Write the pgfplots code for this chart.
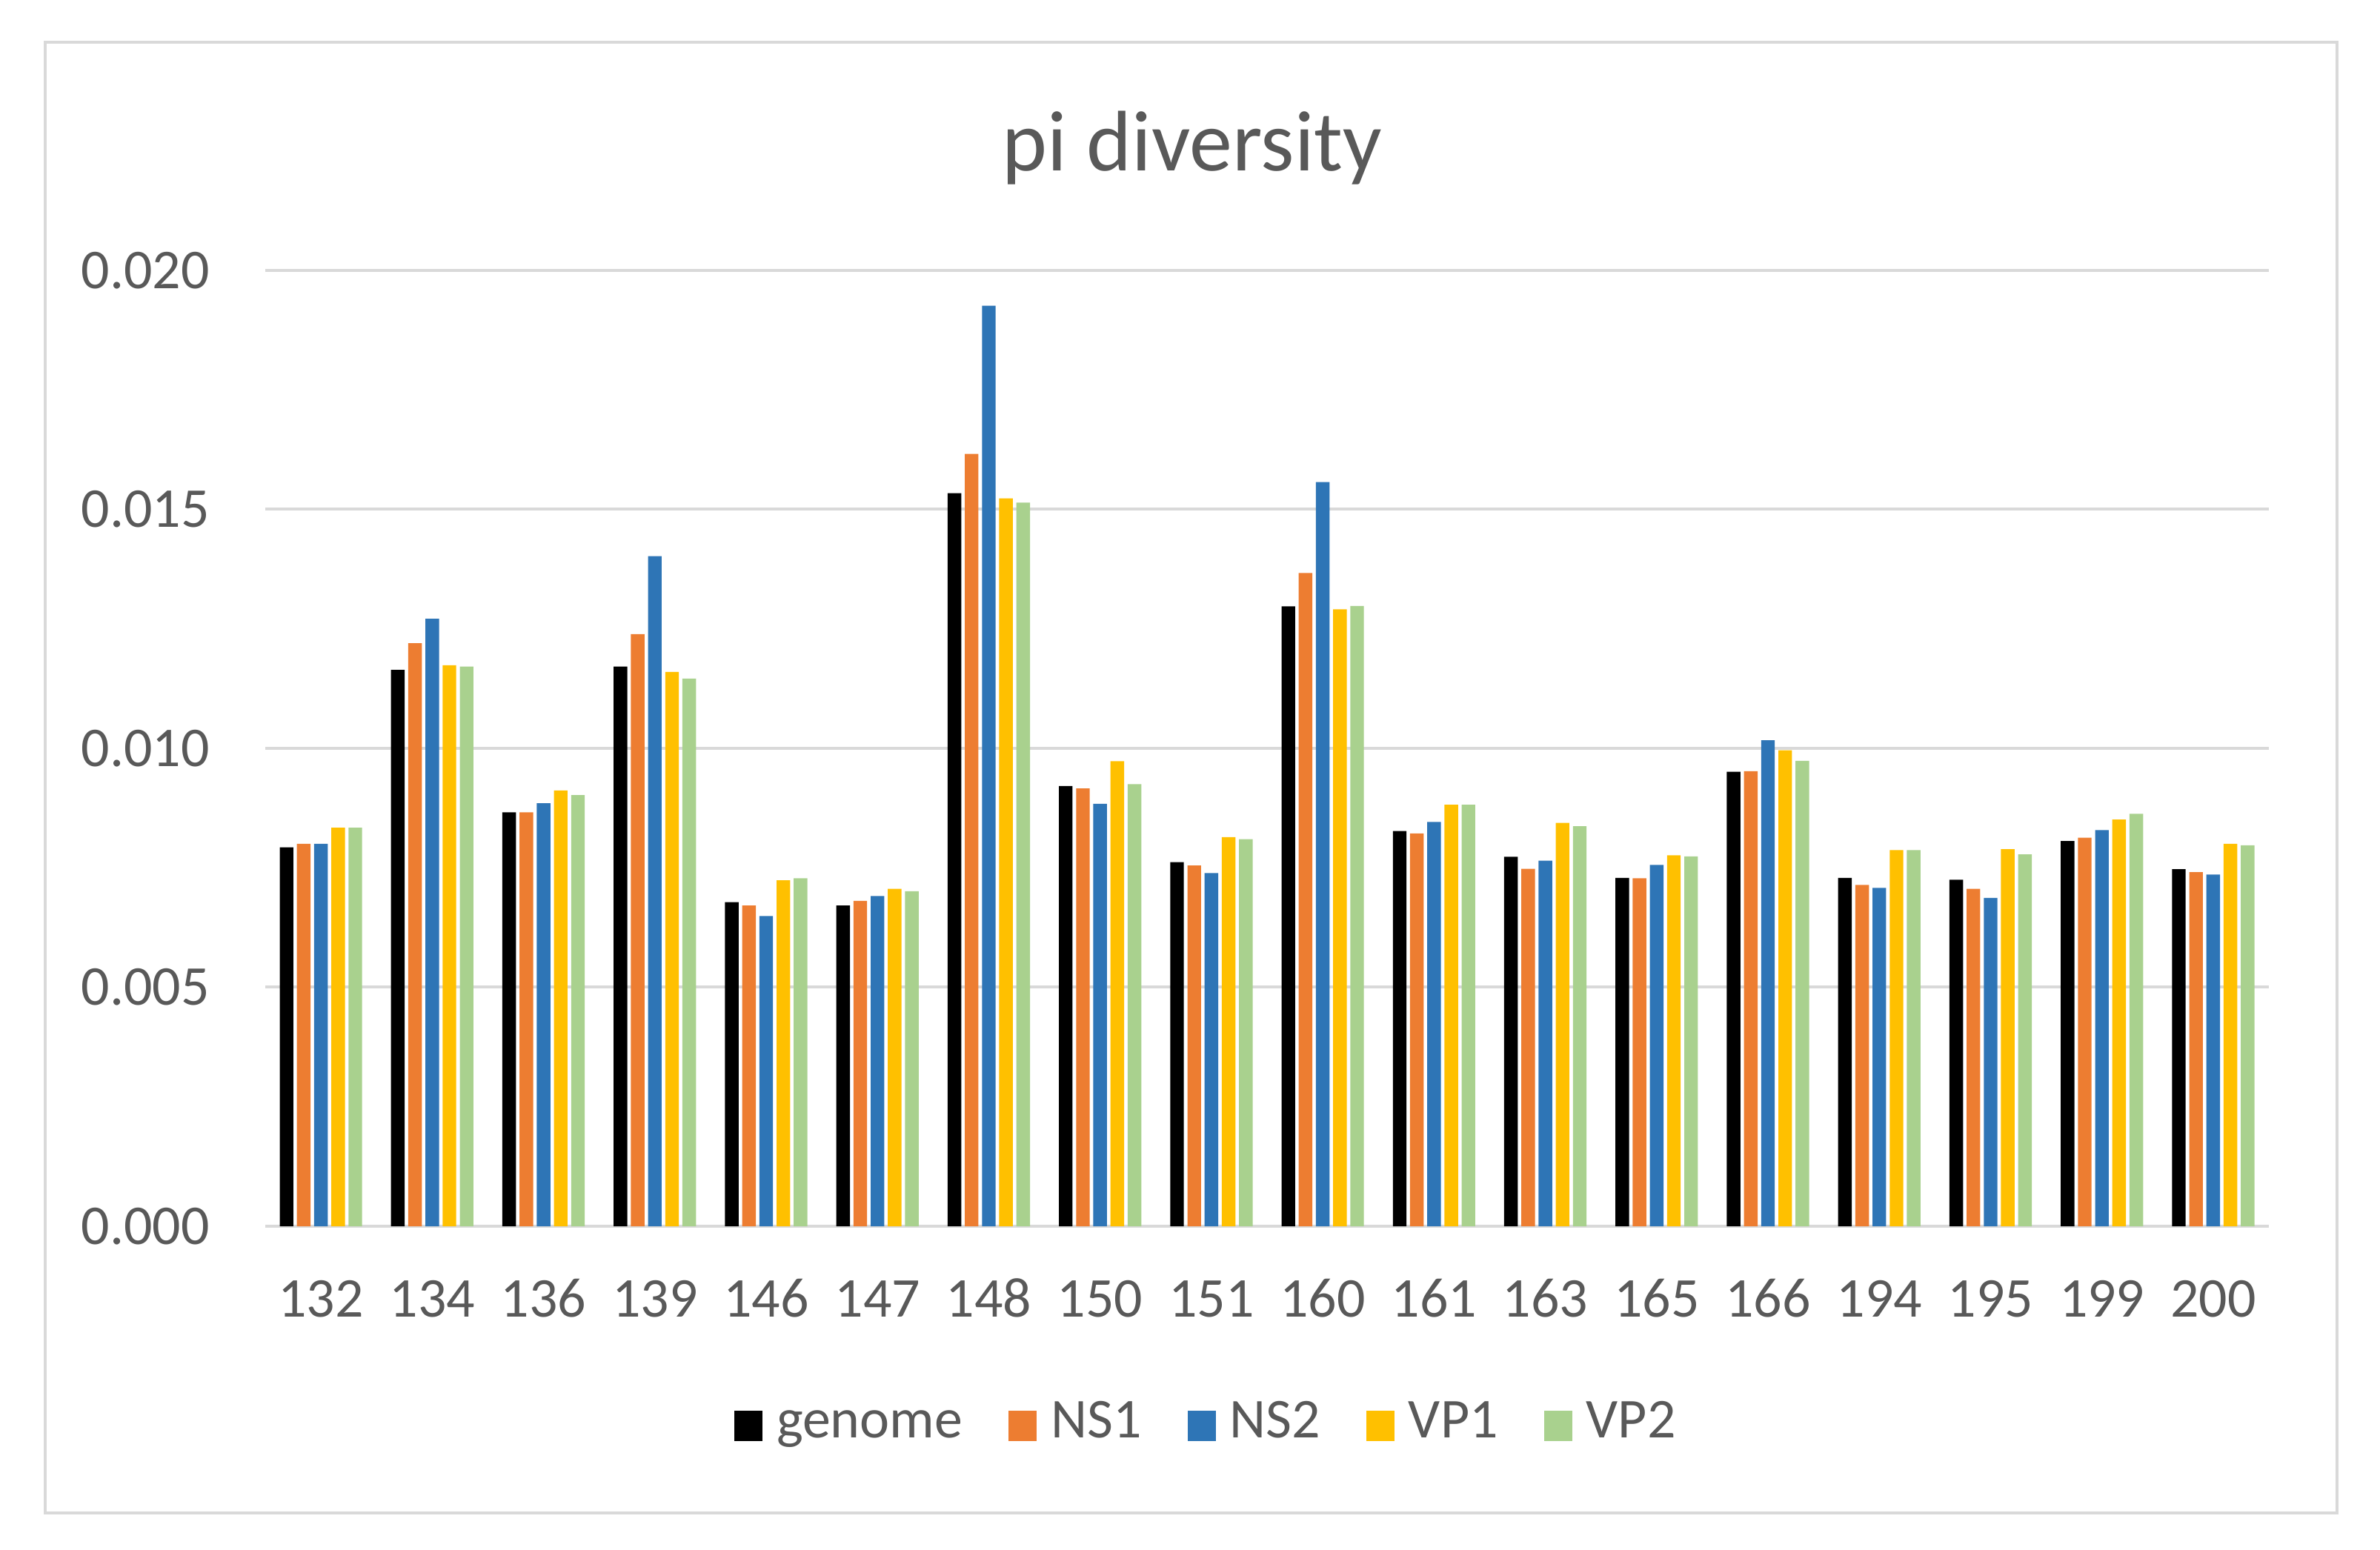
\documentclass[border=0pt]{standalone}
\usepackage{fontspec}
\setmainfont{Carlito}
\usepackage{pgfplots}
\usepackage{pgfplotstable}
\pgfplotsset{compat=1.18}

\definecolor{cgenome}{HTML}{000000}
\definecolor{cns1}{HTML}{ED7D31}
\definecolor{cns2}{HTML}{2E75B6}
\definecolor{cvp1}{HTML}{FFC000}
\definecolor{cvp2}{HTML}{A9D18E}
\definecolor{txtgray}{HTML}{595959}
\definecolor{gridgray}{HTML}{D9D9D9}

% pi diversity per sample and region
\pgfplotstableread{
idx genome  NS1     NS2     VP1     VP2
0   0.00793 0.00800 0.00800 0.00834 0.00834
1   0.01164 0.01220 0.01271 0.01174 0.01171
2   0.00866 0.00866 0.00885 0.00912 0.00902
3   0.01171 0.01239 0.01402 0.01160 0.01146
4   0.00678 0.00671 0.00649 0.00724 0.00728
5   0.00671 0.00681 0.00691 0.00706 0.00701
6   0.01534 0.01616 0.01926 0.01523 0.01514
7   0.00921 0.00916 0.00884 0.00973 0.00925
8   0.00762 0.00755 0.00739 0.00814 0.00810
9   0.01297 0.01367 0.01557 0.01291 0.01298
10  0.00827 0.00822 0.00846 0.00882 0.00882
11  0.00773 0.00748 0.00765 0.00844 0.00837
12  0.00729 0.00728 0.00756 0.00776 0.00774
13  0.00951 0.00952 0.01017 0.00996 0.00974
14  0.00729 0.00714 0.00708 0.00787 0.00787
15  0.00725 0.00706 0.00687 0.00789 0.00778
16  0.00806 0.00813 0.00829 0.00851 0.00863
17  0.00747 0.00741 0.00736 0.00800 0.00797
}\pidata

\pgfplotsset{
  squarelegend/.style={
    legend image code/.code={\fill[#1] (0cm,-0.1cm) rectangle (0.19cm,0.105cm);}
  }
}

\begin{document}
\begin{tikzpicture}
\path[use as bounding box] (0,0) rectangle (16.06cm,10.455cm);
\draw[gridgray, line width=0.02cm] (0.305cm,0.245cm) rectangle (15.77cm,10.17cm);
\node[anchor=base, inner sep=0pt, text=txtgray, font=\fontsize{16.5}{20}\selectfont]
  at (8.045cm,9.30cm) {pi diversity};

\begin{axis}[
  at={(1.79cm,2.18cm)}, anchor=south west,
  scale only axis,
  width=13.52cm, height=6.45cm,
  ybar=0.024cm, bar width=0.092cm,
  xmin=-0.5, xmax=17.5,
  ymin=0, ymax=0.020,
  scaled y ticks=false,
  xtick={0,...,17},
  xticklabels={132,134,136,139,146,147,148,150,151,160,161,163,165,166,194,195,199,200},
  ytick={0,0.005,0.010,0.015,0.020},
  yticklabels={0.000,0.005,0.010,0.015,0.020},
  ymajorgrids,
  grid style={gridgray, line width=0.02cm},
  axis line style={draw=none},
  major tick length=0pt,
  tick label style={text=txtgray, font=\fontsize{10.8}{13}\selectfont, inner sep=0pt},
  yticklabel style={anchor=east, xshift=-0.37cm},
  xticklabel style={anchor=base, yshift=-0.61cm},
  legend columns=5,
  legend style={
    at={(0.2341,-0.209)}, anchor=west,
    draw=none, fill=none, inner sep=0pt, outer sep=0pt,
    font=\fontsize{10.8}{13}\selectfont, text=txtgray,
    nodes={inner sep=0pt, text height=0.66em, text depth=0.21em},
    /tikz/every odd column/.append style={column sep=0.095cm},
    /tikz/every even column/.append style={column sep=0.31cm},
  },
  squarelegend,
]
\addplot[fill=cgenome, draw=none] table[x=idx, y=genome] {\pidata};
\addplot[fill=cns1, draw=none] table[x=idx, y=NS1] {\pidata};
\addplot[fill=cns2, draw=none] table[x=idx, y=NS2] {\pidata};
\addplot[fill=cvp1, draw=none] table[x=idx, y=VP1] {\pidata};
\addplot[fill=cvp2, draw=none] table[x=idx, y=VP2] {\pidata};
\legend{genome,NS1,NS2,VP1,VP2}
\end{axis}
\end{tikzpicture}
\end{document}
